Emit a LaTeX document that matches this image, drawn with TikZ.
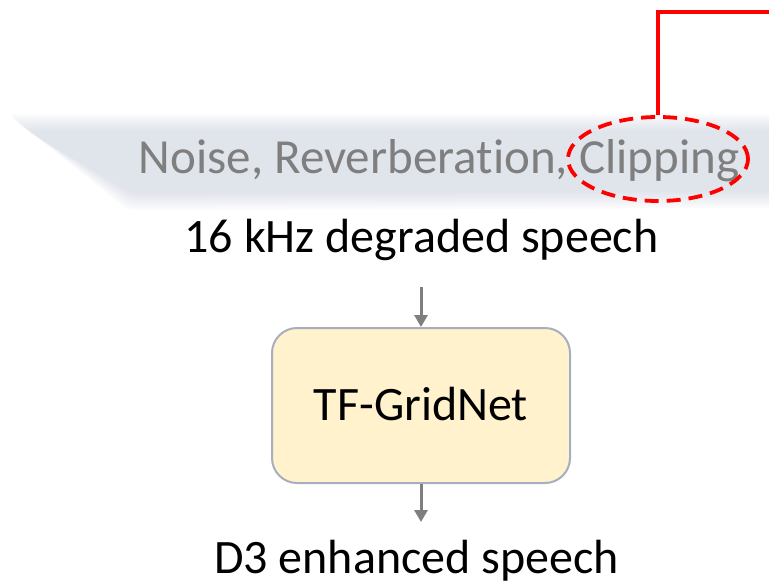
\documentclass[tikz,border=0pt]{standalone}
\usepackage{fontspec}
\setmainfont{Carlito}[Ligatures={NoCommon,NoRare,NoContextual}]
\usetikzlibrary{shapes.geometric,arrows.meta}
\definecolor{bandc}{RGB}{200,206,222}
\definecolor{txtgray}{RGB}{127,127,127}
\definecolor{boxfill}{RGB}{255,242,204}
\definecolor{boxline}{RGB}{166,174,191}
\definecolor{redc}{RGB}{255,0,0}
\tikzset{
  big/.style={font=\fontsize{48}{56}\selectfont},
  biggray/.style={font=\fontsize{49}{57}\selectfont, text=txtgray},
  flow/.style={draw=txtgray, line width=3pt, -{Triangle[length=12pt,width=13pt]}},
  block/.style={draw=boxline, line width=2pt, fill=boxfill, rounded corners=25pt,
    minimum width=298pt, minimum height=155pt, inner sep=0pt},
  callout/.style={draw=redc, line width=3.8pt},
}
\begin{document}
\begin{tikzpicture}[x=1pt,y=-1pt]
\useasboundingbox (0,0) rectangle (769,584);
\fill[white] (0,0) rectangle (769,584);
% soft banner behind the list of degradations
\foreach \i in {0,...,9}{
  \fill[bandc, opacity=0.065, rounded corners=6pt]
    (8+2.2*\i,114+2*\i) -- (780,114+2*\i) -- (780,208-2*\i) -- (128+0.5*\i,210-2*\i) -- cycle;
}
\node[biggray, anchor=base] (deg) at (439,173) {Noise, Reverberation, Clipping};
\node[callout, dashed, dash pattern=on 14pt off 8pt, ellipse, minimum width=180pt, minimum height=84pt, inner sep=0pt] (clip) at (658,159) {};
\coordinate (rc) at (769,12);
\draw[callout] (clip.north) |- (rc);
\node[big, anchor=base] (in) at (421.5,252) {16 kHz degraded speech};
\node[block] (net) at (421,405.5) {};
\node[big, anchor=base] (netlbl) at (net.center |- 0,420) {TF-GridNet};
\node[big, anchor=base] (out) at (416.5,573) {D3 enhanced speech};
\coordinate (a1) at (421,287);
\coordinate (a2) at (421,522);
\draw[flow] (a1) -- (net.north);
\draw[flow] (net.south) -- (a2);
\end{tikzpicture}
\end{document}
